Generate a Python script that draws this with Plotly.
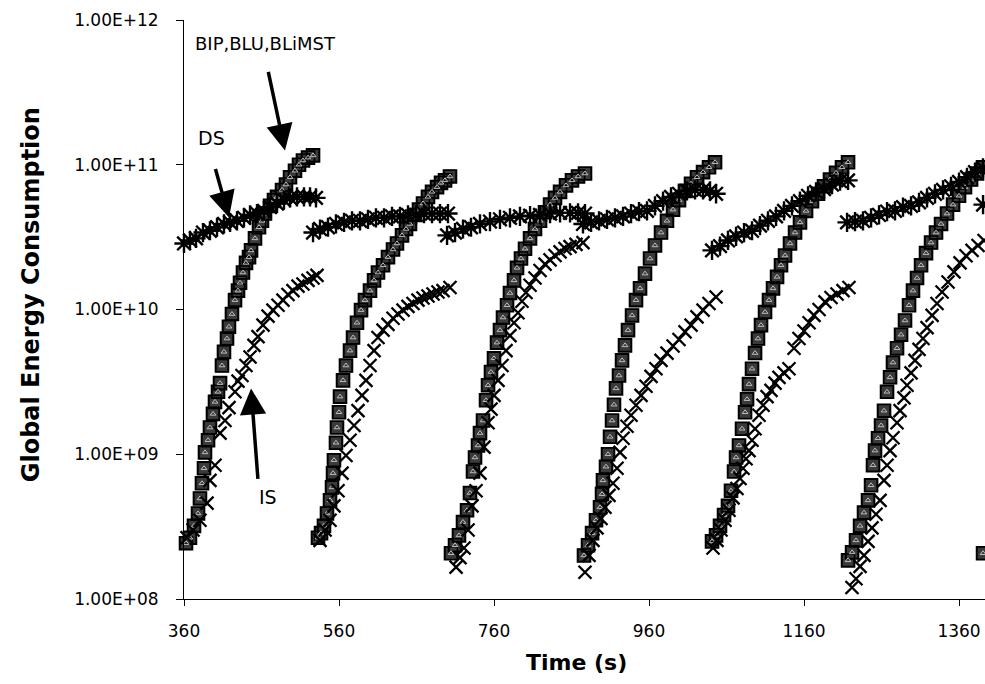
import plotly.graph_objects as go

# ---------------- data ----------------
# BIP / BLU / BLiMST curves nearly coincide: one set of readings per cycle
bip_t = (
    [362.6, 367.7, 372.9, 378.1, 380.6, 383.2, 385.8, 387.1, 391, 393.5, 397.4, 400, 403.9, 406.5, 409, 411.6,
     415.5, 418, 421.9, 425.8, 429.7, 432.3, 436.1, 440, 443.9, 446.5, 451.6, 456.8, 460.6, 464.5, 471, 476.1,
     480, 486.5, 491.6, 496.8, 503.2, 508.4, 513.5, 520, 526.5]
    + [532.9, 536.8, 540.6, 544.5, 548.4, 551, 552.3, 553.5, 556.1, 557.4, 560, 561.3, 565.2, 569, 574.2, 578.1,
       583.2, 588.4, 593.5, 600, 605.2, 610.3, 616.8, 623.2, 629.7, 634.8, 641.3, 646.5, 651.6, 658.1, 663.2,
       668.4, 674.8, 680, 686.5, 691.6, 696.8, 703.2]
    + [704.5, 709.7, 714.8, 720, 725.2, 729, 732.9, 735.5, 739.4, 741.9, 745.8, 749.7, 752.3, 756.1, 760, 763.9,
       767.7, 771.6, 776.8, 780.6, 785.8, 789.7, 794.8, 800, 806.5, 812.9, 819.4, 825.8, 832.3, 838.7, 845.2,
       852.9, 860.6, 868.4, 877.4]
    + [876.1, 881.3, 886.5, 891.6, 896.8, 899.4, 900.6, 904.5, 907.1, 909.7, 912.3, 914.8, 917.4, 921.3, 925.2,
       929, 932.9, 938.1, 943.2, 948.4, 954.8, 961.3, 967.7, 975.5, 983.2, 991, 998.7, 1006.5, 1014.2, 1021.9,
       1029.7, 1037.4, 1045.2]
    + [1041.3, 1046.5, 1051.6, 1056.8, 1061.9, 1065.8, 1069.7, 1072.3, 1076.1, 1080, 1083.9, 1086.5, 1089,
       1092.9, 1096.8, 1100.6, 1104.5, 1109.7, 1114.8, 1120, 1125.2, 1130.3, 1135.5, 1141.9, 1148.4, 1154.8,
       1162.6, 1170.3, 1178.1, 1185.8, 1193.5, 1201.3, 1209, 1216.8]
    + [1216.8, 1222, 1227.1, 1232.3, 1237.4, 1242.6, 1246.5, 1249, 1251.6, 1255.5, 1259.4, 1263.2, 1267.1, 1271,
       1274.8, 1280, 1285.2, 1290.3, 1295.5, 1300.6, 1305.8, 1311, 1317.4, 1323.9, 1330.3, 1336.8, 1344.5,
       1352.3, 1360, 1367.7, 1375.5, 1383.2, 1391]
    + [1391]
)
bip_v = (
    [2.43e8, 2.65e8, 3.2e8, 3.9e8, 4.95e8, 6.3e8, 8.0e8, 1.03e9, 1.25e9, 1.53e9, 1.9e9, 2.3e9, 2.7e9, 3.1e9,
     4.1e9, 5.1e9, 6.3e9, 7.6e9, 9.3e9, 1.16e10, 1.35e10, 1.53e10, 1.8e10, 2.1e10, 2.3e10, 2.56e10, 3.1e10,
     3.7e10, 4.1e10, 4.6e10, 5.2e10, 5.7e10, 6.0e10, 6.7e10, 7.3e10, 8.2e10, 9.1e10, 1.0e11, 1.07e11, 1.12e11,
     1.16e11]
    + [2.65e8, 2.85e8, 3.2e8, 3.9e8, 4.8e8, 5.9e8, 7.4e8, 9.1e8, 1.2e9, 1.53e9, 1.95e9, 2.5e9, 3.24e9, 4.1e9,
       5.2e9, 6.4e9, 8.1e9, 9.9e9, 1.16e10, 1.35e10, 1.59e10, 1.8e10, 2.02e10, 2.3e10, 2.6e10, 2.86e10, 3.25e10,
       3.6e10, 3.9e10, 4.5e10, 4.9e10, 5.4e10, 6.0e10, 6.5e10, 7.0e10, 7.5e10, 7.8e10, 8.3e10]
    + [2.07e8, 2.35e8, 2.75e8, 3.4e8, 4.1e8, 5.4e8, 7.6e8, 9.5e8, 1.15e9, 1.4e9, 1.71e9, 2.36e9, 3.0e9, 3.7e9,
       4.6e9, 5.9e9, 7.2e9, 8.8e9, 1.07e10, 1.3e10, 1.59e10, 1.94e10, 2.25e10, 2.63e10, 3.1e10, 3.6e10, 4.1e10,
       4.7e10, 5.3e10, 5.9e10, 6.5e10, 7.2e10, 7.8e10, 8.3e10, 8.7e10]
    + [2.0e8, 2.35e8, 2.85e8, 3.5e8, 4.3e8, 5.3e8, 6.6e8, 8.2e8, 1.0e9, 1.32e9, 1.71e9, 2.2e9, 2.85e9, 3.5e9,
       4.45e9, 5.65e9, 7.2e9, 9.1e9, 1.16e10, 1.4e10, 1.77e10, 2.25e10, 2.77e10, 3.4e10, 4.1e10, 4.9e10, 5.7e10,
       6.6e10, 7.4e10, 8.2e10, 8.9e10, 9.6e10, 1.04e11]
    + [2.5e8, 2.75e8, 3.2e8, 3.8e8, 4.4e8, 5.6e8, 7.6e8, 9.5e8, 1.15e9, 1.5e9, 1.95e9, 2.4e9, 3.05e9, 3.9e9,
       5.0e9, 6.3e9, 7.8e9, 9.6e9, 1.16e10, 1.4e10, 1.68e10, 2.02e10, 2.36e10, 2.86e10, 3.4e10, 4.0e10, 4.8e10,
       5.6e10, 6.3e10, 7.1e10, 7.9e10, 8.8e10, 9.6e10, 1.04e11]
    + [1.85e8, 2.1e8, 2.54e8, 3.2e8, 3.95e8, 4.8e8, 6.1e8, 8.4e8, 1.06e9, 1.29e9, 1.58e9, 2.0e9, 2.7e9, 3.4e9,
       4.3e9, 5.4e9, 6.7e9, 8.4e9, 1.07e10, 1.35e10, 1.65e10, 2.02e10, 2.45e10, 2.9e10, 3.4e10, 3.9e10, 4.6e10,
       5.3e10, 6.1e10, 7.0e10, 7.9e10, 8.7e10, 9.6e10]
    + [2.07e8]
)

# IS
is_t = (
    [363.9, 371.6, 380.6, 389.7, 393.5, 400, 406.5, 412.9, 418.1, 425.8, 429.7, 434.8, 440, 445.2, 450.3, 455.5,
     461.9, 468.4, 474.8, 481.3, 487.7, 494.2, 500.6, 507.1, 513.5, 520, 526.5, 531.6]
    + [535.5, 542, 548.4, 553.5, 558.7, 563.9, 569, 574.2, 579.4, 584.5, 589.7, 594.8, 600, 605.2, 610.3, 616.8,
       623.2, 629.7, 636.1, 642.6, 649, 655.5, 661.9, 668.4, 674.8, 681.3, 687.7, 694.2, 703.2]
    + [711, 716.1, 721.3, 726.5, 731.6, 736.8, 741.9, 747.1, 752.3, 756.1, 760, 765.2, 770.3, 775.5, 780.6, 785.8,
       790.9, 796.1, 801.3, 806.5, 812.9, 819.4, 825.8, 832.3, 838.7, 845.2, 851.6, 858.1, 865.8, 874.8]
    + [877.4, 882.6, 887.7, 892.9, 898.1, 903.2, 908.4, 913.5, 918.7, 922.6, 926.5, 931.6, 936.8, 943.2, 949.7,
       956.1, 962.6, 969, 975.5, 983.2, 991, 998.7, 1006.5, 1014.2, 1021.9, 1029.7, 1037.4, 1046.5]
    + [1042.6, 1047.7, 1052.9, 1058.1, 1063.2, 1068.4, 1073.5, 1077.4, 1081.3, 1085.2, 1089, 1092.9, 1096.8,
       1101.9, 1107.1, 1112.3, 1117.4, 1122.6, 1127.7, 1134.2, 1140.6, 1147.1, 1153.5, 1160, 1166.5, 1172.9,
       1179.4, 1187.1, 1194.8, 1202.6, 1210.3, 1218]
    + [1221.9, 1227.1, 1232.3, 1237.4, 1242.6, 1247.7, 1252.9, 1258.1, 1263.2, 1267.1, 1271, 1274.8, 1280,
       1283.9, 1289, 1292.9, 1298.1, 1303.2, 1308.4, 1313.5, 1318.7, 1325.2, 1331.6, 1338.1, 1345.8, 1353.5,
       1361.3, 1369, 1376.8, 1384.5, 1392.3]
)
is_v = (
    [2.65e8, 3.0e8, 3.5e8, 4.6e8, 6.6e8, 8.4e8, 1.4e9, 1.71e9, 2.1e9, 2.7e9, 3.2e9, 3.5e9, 4.1e9, 4.7e9, 5.65e9,
     6.5e9, 7.8e9, 9.0e9, 9.9e9, 1.07e10, 1.16e10, 1.27e10, 1.35e10, 1.45e10, 1.5e10, 1.59e10, 1.65e10, 1.72e10]
    + [2.54e8, 3.0e8, 3.5e8, 4.4e8, 5.6e8, 7.4e8, 9.8e8, 1.25e9, 1.58e9, 2.0e9, 2.55e9, 3.24e9, 4.1e9, 5.2e9,
       6.4e9, 7.2e9, 7.9e9, 8.7e9, 9.3e9, 9.9e9, 1.05e10, 1.1e10, 1.16e10, 1.2e10, 1.24e10, 1.28e10, 1.32e10,
       1.35e10, 1.42e10]
    + [1.66e8, 1.93e8, 2.25e8, 3.0e8, 4.4e8, 5.6e8, 7.4e8, 1.12e9, 1.65e9, 2.05e9, 2.55e9, 3.24e9, 4.1e9, 5.2e9,
       6.6e9, 8.1e9, 9.5e9, 1.14e10, 1.31e10, 1.47e10, 1.65e10, 1.86e10, 2.06e10, 2.2e10, 2.36e10, 2.5e10,
       2.64e10, 2.72e10, 2.82e10, 2.9e10]
    + [1.53e8, 2.0e8, 2.54e8, 3.1e8, 3.6e8, 4.3e8, 5.2e8, 6.3e8, 8.0e8, 1.03e9, 1.29e9, 1.56e9, 1.86e9, 2.18e9,
       2.55e9, 2.95e9, 3.45e9, 3.9e9, 4.45e9, 5.0e9, 5.6e9, 6.2e9, 7.0e9, 7.8e9, 8.9e9, 9.9e9, 1.1e10, 1.22e10]
    + [2.25e8, 2.54e8, 3.0e8, 3.5e8, 4.1e8, 5.0e8, 5.8e8, 6.8e8, 8.0e8, 9.3e8, 1.06e9, 1.25e9, 1.5e9, 1.86e9,
       2.18e9, 2.5e9, 2.76e9, 3.1e9, 3.4e9, 3.65e9, 3.9e9, 5.4e9, 6.3e9, 7.1e9, 8.1e9, 9.1e9, 1.0e10, 1.13e10,
       1.21e10, 1.28e10, 1.35e10, 1.42e10]
    + [1.2e8, 1.38e8, 1.68e8, 2.0e8, 2.5e8, 3.1e8, 3.85e8, 4.8e8, 6.6e8, 8.4e8, 1.06e9, 1.3e9, 1.65e9, 2.0e9,
       2.45e9, 3.0e9, 3.65e9, 4.45e9, 5.3e9, 6.3e9, 7.5e9, 9.1e9, 1.1e10, 1.32e10, 1.55e10, 1.82e10, 2.1e10,
       2.35e10, 2.56e10, 2.77e10, 3.0e10]
)

# DS
ds_t = (
    [360, 367.7, 375.5, 384.5, 393.5, 402.6, 411.6, 419.4, 428.4, 437.4, 445.2, 454.2, 463.2, 471, 480, 489,
     496.8, 505.8, 514.8, 522.6, 530.3]
    + [526.5, 535.5, 545.8, 556.1, 566.5, 576.8, 587.1, 597.4, 607.7, 618.1, 628.4, 638.7, 649, 659.4, 669.7,
       680, 690.3, 700.6]
    + [699.4, 709.7, 720, 730.3, 741.9, 754.8, 767.7, 780.6, 793.5, 806.5, 819.4, 832.3, 845.2, 858.1, 868.4,
       877.4]
    + [874.8, 885.2, 895.5, 905.8, 916.1, 926.5, 936.8, 947.1, 957.4, 967.7, 978.1, 988.4, 998.7, 1009, 1019.4,
       1029.7, 1038.7, 1046.5]
    + [1041.3, 1051.6, 1061.9, 1072.3, 1082.6, 1092.9, 1103.2, 1113.5, 1123.9, 1134.2, 1144.5, 1154.8, 1165.2,
       1175.5, 1185.8, 1196.1, 1206.5, 1216.8]
    + [1215.5, 1225.8, 1236.1, 1246.5, 1256.8, 1267.1, 1277.4, 1287.7, 1298.1, 1308.4, 1318.7, 1329, 1339.4,
       1349.7, 1360, 1370.3, 1380.6, 1390.9]
    + [1391]
)
ds_v = (
    [2.86e10, 3.0e10, 3.1e10, 3.4e10, 3.5e10, 3.7e10, 3.9e10, 4.0e10, 4.1e10, 4.3e10, 4.5e10, 4.6e10, 4.8e10,
     5.1e10, 5.4e10, 5.7e10, 5.9e10, 6.0e10, 6.0e10, 6.0e10, 5.9e10]
    + [3.4e10, 3.6e10, 3.7e10, 3.9e10, 4.0e10, 4.1e10, 4.1e10, 4.2e10, 4.3e10, 4.3e10, 4.4e10, 4.4e10, 4.5e10,
       4.5e10, 4.6e10, 4.6e10, 4.6e10, 4.6e10]
    + [3.25e10, 3.4e10, 3.6e10, 3.7e10, 3.9e10, 4.05e10, 4.2e10, 4.3e10, 4.4e10, 4.45e10, 4.5e10, 4.6e10,
       4.65e10, 4.65e10, 4.65e10, 4.6e10]
    + [3.9e10, 4.0e10, 4.1e10, 4.2e10, 4.3e10, 4.4e10, 4.6e10, 4.75e10, 4.8e10, 5.2e10, 5.6e10, 6.0e10, 6.3e10,
       6.6e10, 6.7e10, 6.7e10, 6.6e10, 6.3e10]
    + [2.56e10, 2.74e10, 3.0e10, 3.2e10, 3.4e10, 3.5e10, 3.8e10, 4.1e10, 4.4e10, 4.8e10, 5.2e10, 5.6e10, 6.1e10,
       6.5e10, 6.8e10, 7.3e10, 7.7e10, 7.8e10]
    + [4.0e10, 4.05e10, 4.1e10, 4.3e10, 4.5e10, 4.75e10, 4.8e10, 5.1e10, 5.2e10, 5.5e10, 5.9e10, 6.3e10, 6.7e10,
       7.1e10, 7.6e10, 8.2e10, 8.9e10, 9.5e10]
    + [5.3e10]
)

x_ticks = [360, 560, 760, 960, 1160, 1360]
y_ticks = [1e8, 1e9, 1e10, 1e11, 1e12]
y_ticktext = ["1.00E+08", "1.00E+09", "1.00E+10", "1.00E+11", "1.00E+12"]

# ---------------- figure ----------------
FONT = "DejaVu Sans, Liberation Sans, Arial, sans-serif"
fig = go.Figure()

fig.add_trace(go.Scatter(
    x=bip_t, y=bip_v, mode="markers", name="BIP", cliponaxis=False,
    marker=dict(symbol="square", size=12, color="#3a3a3a", line=dict(color="black", width=1.2))))
fig.add_trace(go.Scatter(
    x=bip_t, y=bip_v, mode="markers", name="BLiMST", cliponaxis=False,
    marker=dict(symbol="square-open", size=13, color="black", line=dict(color="black", width=1.6))))
fig.add_trace(go.Scatter(
    x=bip_t, y=bip_v, mode="markers", name="BLU", cliponaxis=False,
    marker=dict(symbol="triangle-up-open", size=5, color="#bdbdbd", line=dict(color="#bdbdbd", width=1))))
fig.add_trace(go.Scatter(
    x=is_t, y=is_v, mode="markers", name="IS", cliponaxis=False,
    marker=dict(symbol="x-thin-open", size=13, color="black", line=dict(color="black", width=2.3))))
fig.add_trace(go.Scatter(
    x=ds_t, y=ds_v, mode="markers", name="DS", cliponaxis=False,
    marker=dict(symbol="asterisk-open", size=16, color="black", line=dict(color="black", width=2.4))))

arrow = dict(showarrow=True, arrowhead=2, arrowsize=1.5, arrowwidth=3.5, arrowcolor="black", text="")
annotations = [
    # arrows (tip in data coords, tail as pixel offset)
    dict(x=490.3, y=11.099, ax=-17, ay=-80, xref="x", yref="y", **arrow),
    dict(x=418.1, y=10.636, ax=-14, ay=-50, xref="x", yref="y", **arrow),
    dict(x=446.5, y=9.455, ax=7, ay=92, xref="x", yref="y", **arrow),
    # labels
    dict(x=465.0, y=11.838, xref="x", yref="y", text="BIP,BLU,BLiMST", showarrow=False,
         font=dict(family=FONT, size=18, color="black")),
    dict(x=396.1, y=11.182, xref="x", yref="y", text="DS", showarrow=False,
         font=dict(family=FONT, size=19, color="black")),
    dict(x=468.4, y=8.702, xref="x", yref="y", text="IS", showarrow=False,
         font=dict(family=FONT, size=19, color="black")),
    # axis titles
    dict(x=0.49, y=-0.11, xref="paper", yref="paper", text="<b>Time (s)</b>", showarrow=False,
         font=dict(family=FONT, size=22, color="black"), yanchor="middle", xanchor="center"),
    dict(x=-0.19, y=0.526, xref="paper", yref="paper", text="<b>Global Energy Consumption</b>",
         showarrow=False, textangle=-90, font=dict(family=FONT, size=24, color="black"),
         xanchor="center", yanchor="middle"),
]

fig.update_layout(
    width=985, height=684, autosize=False,
    margin=dict(l=184, r=0, t=19.5, b=85),
    paper_bgcolor="white", plot_bgcolor="white",
    showlegend=False,
    font=dict(family=FONT, size=17, color="black"),
    annotations=annotations,
    xaxis=dict(range=[360, 1393.5], tickvals=x_ticks, ticks="outside", ticklen=6, tickcolor="black",
               showline=True, linecolor="black", linewidth=1, showgrid=False, zeroline=False,
               tickfont=dict(family=FONT, size=17, color="black"), ticklabelstandoff=11),
    yaxis=dict(type="log", range=[8, 12], tickvals=y_ticks, ticktext=y_ticktext, ticks="outside",
               ticklen=7, tickcolor="black", showline=True, linecolor="black", linewidth=1,
               showgrid=False, zeroline=False, tickfont=dict(family=FONT, size=17, color="black"),
               ticklabelstandoff=14),
)

fig.write_html("out.html")
